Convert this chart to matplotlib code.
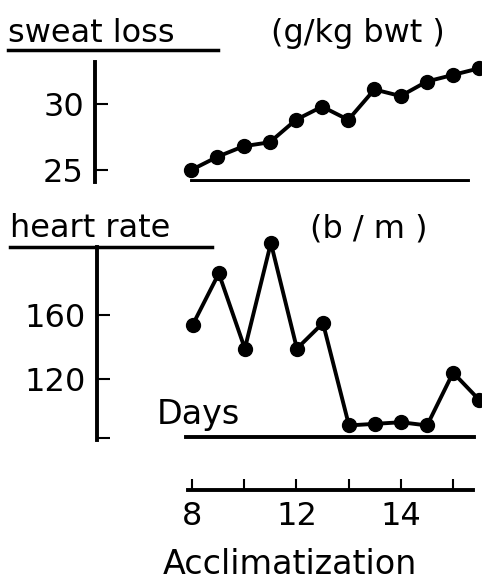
import matplotlib
matplotlib.use("Agg")
import matplotlib.pyplot as plt
from matplotlib.lines import Line2D

# Data (one point per day)
days = list(range(12))
sweat_loss = [25.0, 26.0, 26.8, 27.1, 28.8, 29.8, 28.8, 31.1, 30.6, 31.7, 32.2, 32.7]
heart_rate = [154, 186, 139, 205, 139, 155, 91, 92, 93, 91, 124, 107]

sweat_ticks = [25, 30]
hr_ticks = [83, 120, 160]
hr_tick_labels = ["", "120", "160"]
day_ticks = [0, 2, 4, 6, 8, 10]
day_tick_labels = ["8", "", "12", "", "14", ""]

W, H = 482, 586
fig = plt.figure(figsize=(W / 100, H / 100), dpi=100)
plt.rcParams['font.family'] = ['DejaVu Sans']

def rect(left, top, right, bottom):
    # pixel box -> figure fraction
    return [left / W, 1 - bottom / H, (right - left) / W, (bottom - top) / H]

xlim = (-3.68, 11.11)
lw = 2.8
col = "black"

def style(ax):
    for s in ["top", "right", "bottom"]:
        ax.spines[s].set_visible(False)
    ax.spines["left"].set_linewidth(lw)
    ax.set_xticks([])
    ax.tick_params(axis="y", direction="in", length=9, width=1.5,
                   labelsize=23, pad=8)
    ax.set_facecolor("none")
    ax.set_xlim(*xlim)

# ---- sweat loss panel
ax1 = fig.add_axes(rect(95, 62, 482, 182))
style(ax1)
ax1.set_ylim(24.09, 33.18)
ax1.set_yticks(sweat_ticks)
ax1.plot(days, sweat_loss, "-o", color=col, lw=lw, ms=10, clip_on=False)
ax1.axhline(24.17, xmin=0.25, xmax=0.965, color=col, lw=lw)

# ---- heart rate panel
ax2 = fig.add_axes(rect(97, 247, 482, 440))
style(ax2)
ax2.set_ylim(81.9, 202.5)
ax2.set_yticks(hr_ticks)
ax2.set_yticklabels(hr_tick_labels)
ax2.plot(days, heart_rate, "-o", color=col, lw=lw, ms=10, clip_on=False)
ax2.axhline(83.5, xmin=0.23, xmax=0.98, color=col, lw=lw)
ax2.text(0.155, 0.13, "Days", transform=ax2.transAxes, fontsize=24,
         ha="left", va="center")

# ---- day axis
ax3 = fig.add_axes(rect(96, 470, 482, 490))
ax3.set_xlim(*xlim)
ax3.set_facecolor("none")
for s in ["top", "right", "left"]:
    ax3.spines[s].set_visible(False)
ax3.spines["bottom"].set_linewidth(lw)
ax3.spines["bottom"].set_bounds(-0.15, 10.75)
ax3.set_yticks([])
ax3.set_xticks(day_ticks)
ax3.set_xticklabels(day_tick_labels)
ax3.tick_params(axis="x", direction="in", length=8, width=1.5,
                labelsize=23, pad=8)
fig.text(290 / W, 1 - 574 / H, "Acclimatization", fontsize=24,
         ha="center", va="baseline")

# ---- titles with underlines
fig.text(8 / W, 1 - 42 / H, "sweat loss", fontsize=23, ha="left", va="baseline")
fig.text(445 / W, 1 - 42 / H, "(g/kg bwt )", fontsize=23, ha="right", va="baseline")
fig.add_artist(Line2D([8 / W, 218 / W], [1 - 50 / H] * 2, color=col, lw=2.5))

fig.text(10 / W, 1 - 237 / H, "heart rate", fontsize=23, ha="left", va="baseline")
fig.text(428 / W, 1 - 237 / H, "(b / m )", fontsize=23, ha="right", va="baseline")
fig.add_artist(Line2D([10 / W, 212 / W], [1 - 247 / H] * 2, color=col, lw=2.5))

fig.savefig("out.png", dpi=100, facecolor="white")
